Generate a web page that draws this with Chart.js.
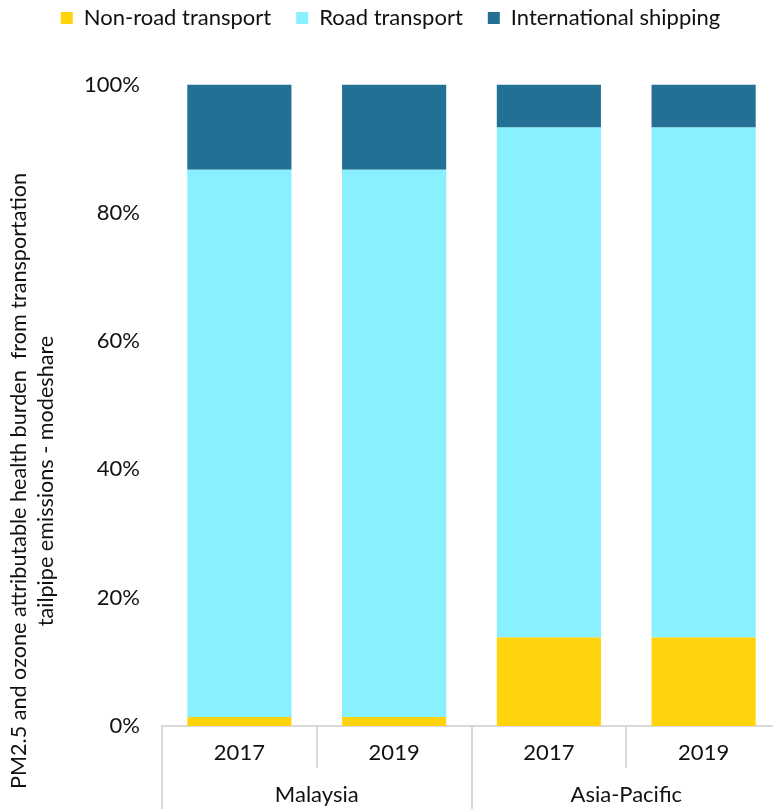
<!DOCTYPE html>
<html>
<head>
<meta charset="utf-8">
<script src="https://cdn.jsdelivr.net/npm/chart.js@4/dist/chart.umd.min.js"></script>
<style>
html,body{margin:0;padding:0;background:#fff;overflow:hidden;}
#wrap{width:781px;height:809px;}
</style>
</head>
<body>
<div id="wrap"><canvas id="c" width="781" height="809"></canvas></div>
<script>
const years = ['2017', '2019', '2017', '2019'];
const regions = ['Malaysia', 'Asia-Pacific'];
const nonRoad = [1.4, 1.4, 13.8, 13.8];
const road = [85.3, 85.3, 79.5, 79.5];
const shipping = [13.3, 13.3, 6.7, 6.7];
const yTicks = [0, 20, 40, 60, 80, 100];
const titleLines = ['PM2.5 and ozone attributable health burden  from transportation', 'tailpipe emissions - modeshare'];

const FONT = 'Lato, "Open Sans", sans-serif';
const TXT = '#111111';
const AXIS = '#D9D9D9';

const legendSpace = {
  id: 'legendSpace',
  beforeInit(chart) {
    const orig = chart.legend.fit;
    chart.legend.fit = function () {
      orig.call(this);
      this.height += 45.5;
    };
  }
};

const yTitle = {
  id: 'yTitle',
  afterDraw(chart) {
    const ctx = chart.ctx;
    ctx.save();
    ctx.fillStyle = TXT;
    ctx.font = '21.6px ' + FONT;
    ctx.textAlign = 'center';
    ctx.textBaseline = 'middle';
    const xs = [19, 46];
    titleLines.forEach((t, i) => {
      ctx.save();
      ctx.translate(xs[i], 481);
      ctx.rotate(-Math.PI / 2);
      ctx.fillText(t, 0, 0);
      ctx.restore();
    });
    ctx.restore();
  }
};

new Chart(document.getElementById('c'), {
  type: 'bar',
  data: {
    labels: years,
    datasets: [
      { label: 'Non-road transport', data: nonRoad, backgroundColor: '#FFD40D', xAxisID: 'x' },
      { label: 'Road transport', data: road, backgroundColor: '#88F0FE', xAxisID: 'x' },
      { label: 'International shipping', data: shipping, backgroundColor: '#227093', xAxisID: 'x' }
    ]
  },
  options: {
    responsive: false,
    devicePixelRatio: 1,
    animation: false,
    layout: { padding: { left: 0, right: 0, top: -18, bottom: 0 } },
    datasets: { bar: { barPercentage: 0.673, categoryPercentage: 1 } },
    plugins: {
      legend: {
        position: 'top',
        labels: {
          boxWidth: 12, boxHeight: 12, padding: 25,
          color: TXT, font: { family: FONT, size: 22 }
        }
      },
      tooltip: { enabled: false },
      title: { display: false }
    },
    scales: {
      x: {
        type: 'category',
        stacked: true,
        offset: true,
        position: 'bottom',
        border: { display: true, color: AXIS, width: 2 },
        grid: { offset: true, drawOnChartArea: false, drawTicks: true, tickLength: 42, color: AXIS, lineWidth: 2 },
        ticks: { color: TXT, font: { family: FONT, size: 22 }, padding: -28, maxRotation: 0 },
        afterFit(s) { s.height = 42; }
      },
      x2: {
        type: 'category',
        labels: regions,
        offset: true,
        position: 'bottom',
        border: { display: false },
        grid: { offset: true, drawOnChartArea: false, drawTicks: true, tickLength: 42, color: AXIS, lineWidth: 2 },
        ticks: { color: TXT, font: { family: FONT, size: 22 }, padding: -28, maxRotation: 0 },
        afterFit(s) { s.height = 41; }
      },
      y: {
        stacked: true,
        min: 0,
        max: 100,
        border: { display: false },
        grid: { display: false, drawTicks: false },
        afterBuildTicks(s) { s.ticks = yTicks.map(v => ({ value: v })); },
        ticks: {
          stepSize: 20,
          padding: 22,
          color: TXT,
          font: { family: FONT, size: 22 },
          callback: v => v + '%'
        },
        afterFit(s) { s.width = 162; }
      }
    }
  },
  plugins: [legendSpace, yTitle]
});
</script>
</body>
</html>
